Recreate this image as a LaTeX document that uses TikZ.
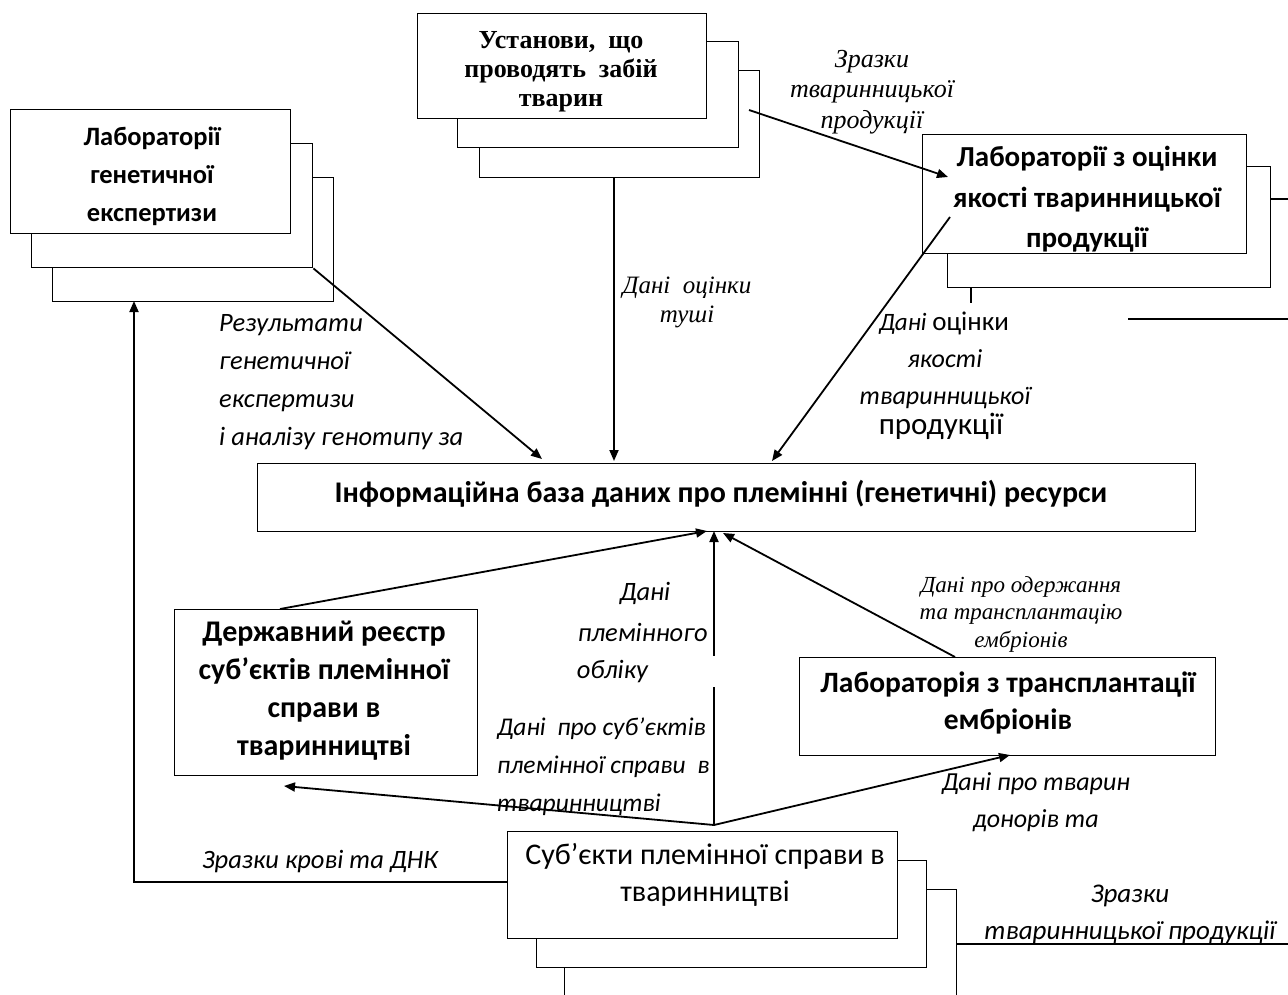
\documentclass[tikz,border=0pt]{standalone}
\usepackage{fontspec}
\setmainfont{Carlito}
\newfontfamily\tnr{Liberation Serif}
\usetikzlibrary{arrows.meta,calc}
\begin{document}
\begin{tikzpicture}[x=1pt,y=-1pt,
  box/.style={draw, line width=1.4pt, fill=white, inner sep=0pt, anchor=north west},
  arr/.style={line width=1.8pt, -{Triangle[length=11pt,width=9pt]}},
  ln/.style={line width=1.4pt},
  txt/.style={inner sep=0pt, align=center},
  lbl/.style={inner sep=0pt, align=center, font=\fontsize{26.5}{38}\selectfont\itshape},
  tlbl/.style={inner sep=0pt, align=center, font=\tnr\fontsize{26.5}{30.5}\selectfont\itshape},
]
\useasboundingbox (0,0) rectangle (1288,994);

% --- genetic expertise labs (stack)
\node[box, minimum width=281, minimum height=124] (gen3) at (52,177) {};
\node[box, minimum width=281, minimum height=124] (gen2) at (31,143) {};
\node[box, minimum width=280, minimum height=124] (gen1) at (10,109) {};
\node[txt, font=\fontsize{26.5}{38}\selectfont\bfseries] (gentxt) at (152,176) {Лабораторії\\генетичної\\експертизи};

% --- slaughter establishments (stack)
\node[box, minimum width=280, minimum height=107] (sl3) at (479,70) {};
\node[box, minimum width=281, minimum height=106] (sl2) at (457,41) {};
\node[box, minimum width=289, minimum height=105] (sl1) at (417,13) {};
\node[txt, font=\tnr\fontsize{26}{29}\selectfont\bfseries] (sltxt) at (561,72) {Установи,\ \ що\\проводять\ \ забій\\тварин};

% --- quality labs (stack)
\draw[ln] (971,287) -- (971,303);
\draw[ln] (1270,199) -- (1300,199);
\draw[ln] (1128,319) -- (1300,319);
\node[box, minimum width=323, minimum height=121] (q2) at (947,166) {};
\node[box, minimum width=324, minimum height=119] (q1) at (922,134) {};
\begin{scope}
\clip (922,134) rectangle (1246,252.5);
\node[txt, font=\fontsize{29}{40.5}\selectfont\bfseries, anchor=north] (qtxt) at (1087,146) {Лабораторії з оцінки\\якості тваринницької\\продукції};
\end{scope}

% --- database
\node[box, minimum width=938, minimum height=68] (db) at (257,463) {};
\node[txt, font=\fontsize{30}{34}\selectfont\bfseries] (dbtxt) at (721,494) {Інформаційна база даних про племінні (генетичні) ресурси};

% --- state register
\node[box, minimum width=303, minimum height=166] (reg) at (174,609) {};
\begin{scope}
\clip (174,609) rectangle (477,774.5);
\node[txt, font=\fontsize{30}{38}\selectfont\bfseries, anchor=north] (regtxt) at (324,621) {Державний реєстр\\суб’єктів племінної\\справи в\\тваринництві};
\end{scope}

% --- embryo lab
\node[box, minimum width=416, minimum height=98] (emb) at (799,657) {};
\node[txt, font=\fontsize{29.5}{37}\selectfont\bfseries] (embtxt) at (1008,703) {Лабораторія з трансплантації\\ембріонів};

% --- subjects (stack)
\node[box, minimum width=392, minimum height=130] (s3) at (564,889) {};
\node[box, minimum width=390, minimum height=107] (s2) at (536,860) {};
\node[box, minimum width=390, minimum height=107] (s1) at (507,831) {};
\node[txt, font=\fontsize{30}{37}\selectfont] (stxt) at (705,875) {Суб’єкти племінної справи в\\тваринництві};

% --- coordinates for connector ends
\coordinate (slA) at (749,110);
\coordinate (qA) at (948,177);
\coordinate (qB) at (950,217);
\coordinate (dbQ) at (772,461);
\coordinate (dbG) at (542,459);
\coordinate (dbS) at (614,461);
\coordinate (dbR) at (707,531);
\coordinate (dbC) at (714,531);
\coordinate (dbE) at (723,533);
\coordinate (regT) at (280,609);
\coordinate (embT) at (955,657);
\coordinate (jn) at (714,825);
\coordinate (regB) at (284,786);
\coordinate (embB) at (1010,755);
\coordinate (sL) at (507,882);
\coordinate (sC) at (134,882);
\coordinate (gB) at (134,301);
\coordinate (s3R) at (956,944);
\coordinate (rEnd) at (1300,944);

% --- connectors
\draw[arr] (gen2.south east) -- (dbG);
\draw[arr] (sl3.south -| dbS) -- (dbS);
\draw[arr] (slA) -- (qA);
\draw[arr] (qB) -- (dbQ);
\draw[arr] (regT) -- (dbR);
\draw[arr] (jn) -- (dbC);
\draw[arr] (embT) -- (dbE);
\draw[arr] (jn) -- (regB);
\draw[arr] (jn) -- (embB);
\draw[arr] (sL) -- (sC) -- (gB);
\draw[ln] (s3R) -- (rEnd);

% --- labels
\node[tlbl, font=\tnr\fontsize{26}{30.5}\selectfont\itshape] (l1) at (872,92) {Зразки\\тваринницької\\продукції};
\node[tlbl, font=\tnr\fontsize{25}{29}\selectfont\itshape] (l2) at (687,302) {Дані\ \ оцінки\\туші};
\node[lbl, align=left, anchor=west] (l3) at (219,382) {Результати\\генетичної\\експертизи\\і аналізу генотипу за};
\node[lbl, font=\fontsize{25}{30}\selectfont\itshape] (l4a) at (944,323) {Дані {\upshape\fontsize{27}{30}\selectfont оцінки}};
\node[lbl, font=\fontsize{26}{37}\selectfont\itshape] (l4b) at (945,379) {якості\\тваринницької};
\node[lbl, font=\fontsize{31}{34}\selectfont] (l4c) at (941,426) {продукції};
\node[lbl] (l5a) at (645,593) {Дані};
\node[lbl, anchor=east] (l5b) at (708,632) {племінного};
\node[lbl, fill=white, anchor=north east, minimum width=140, minimum height=31, text width=140, align=left] (l5c) at (716,656) {\hspace*{1pt}обліку};
\node[lbl, font=\fontsize{25.5}{38}\selectfont\itshape, align=left, anchor=west] (l6) at (497,767) {Дані\ \ про суб’єктів\\племінної справи\ \ в\\тваринництві};
\node[tlbl, font=\tnr\fontsize{23}{27.5}\selectfont\itshape] (l7) at (1021,614) {Дані про одержання\\та трансплантацію\\ембріонів};
\node[lbl, font=\fontsize{26}{37}\selectfont\itshape] (l8) at (1036,802) {Дані про тварин\\донорів та};
\node[lbl] (l9) at (320,862) {Зразки крові та ДНК};
\node[lbl, font=\fontsize{27}{37}\selectfont\itshape] (l10) at (1130,914) {Зразки\\тваринницької продукції};
\end{tikzpicture}
\end{document}
